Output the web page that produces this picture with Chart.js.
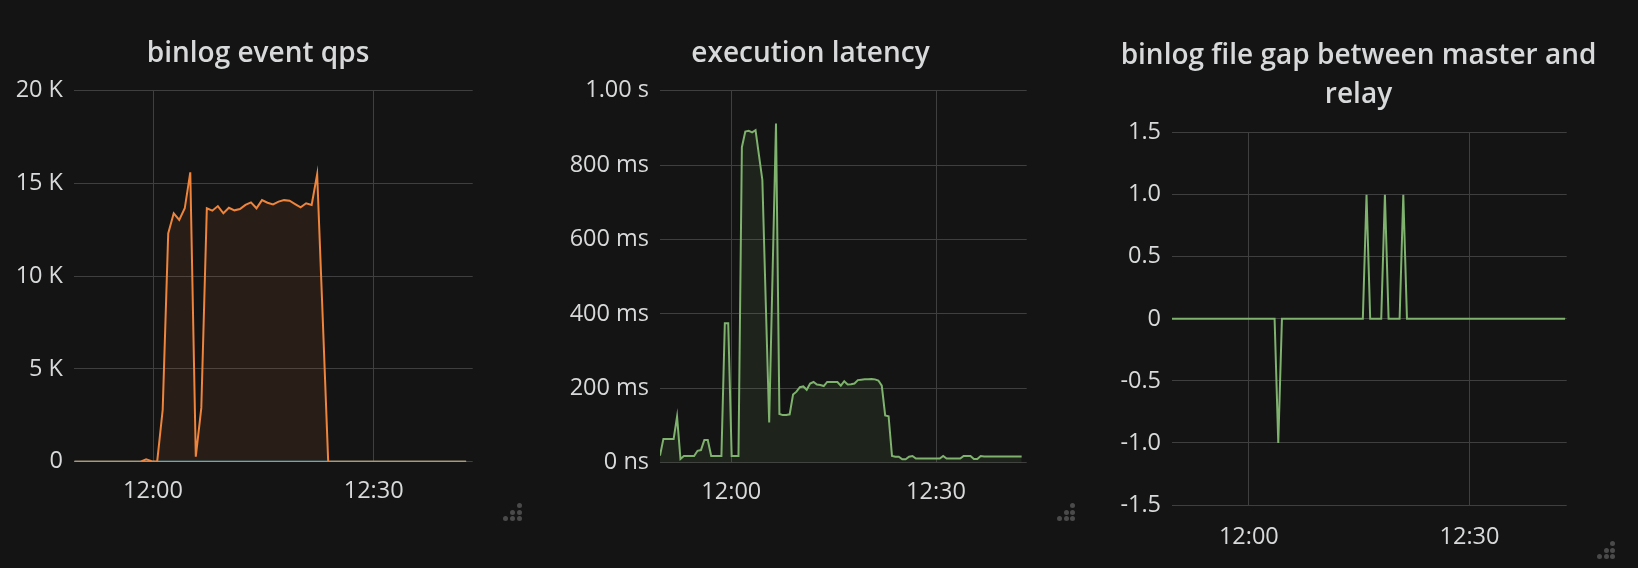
<!DOCTYPE html>
<html>
<head>
<meta charset="utf-8">
<script src="https://cdn.jsdelivr.net/npm/chart.js@4.4.1/dist/chart.umd.min.js"></script>
<style>
html,body{margin:0;padding:0;background:#141414;width:1638px;height:568px;overflow:hidden;}
.p{position:absolute;top:0;}
.dot{position:absolute;width:5px;height:5px;border-radius:50%;background:#4a4a4a;}
</style>
</head>
<body>
<div class="p" style="left:0px"><canvas id="c1" width="516" height="520"></canvas></div>
<div class="p" style="left:545px"><canvas id="c2" width="531" height="520"></canvas></div>
<div class="p" style="left:1100px"><canvas id="c3" width="517" height="568"></canvas></div>
<script>
// ---------- data ----------
const qpsTitle = 'binlog event qps';
const latTitle = 'execution latency';
const gapTitle = ['binlog file gap between master and', 'relay'];

const xTickLabels = ['12:00', '12:30'];
const qpsTickLabels = ['0', '5 K', '10 K', '15 K', '20 K'];
const latTickLabels = ['0 ns', '200 ms', '400 ms', '600 ms', '800 ms', '1.00 s'];
const gapTickLabels = ['-1.5', '-1.0', '-0.5', '0', '0.5', '1.0', '1.5'];

// sampling: start time and step (seconds)
const qpsStart = '11:49:19', qpsStepSec = 45;
const latStart = '11:49:33', latStepSec = 30;
const gapStart = '11:49:30', gapStepSec = 30;

// binlog event qps (events/s)
const qpsEvents = [0,0,0,0,0,0,0,0,0,0,
  0,0,0,130,30,0,2800,12300,13390,13030,
  13660,15600,270,2900,13660,13530,13780,13390,13690,13550,
  13620,13840,13980,13660,14100,13960,13870,14020,14100,14070,
  13890,13710,13930,13840,15500,7800,0,0,0,0,
  0,0,0,0,0,0,0,0,0,0,
  0,0,0,0,0,0,0,0,0,0,
  0,0];
const qpsOther = [0,0,0,0,0,0,0,0,0,0,
  0,0,0,0,0,0,0,0,0,0,
  0,0,0,0,0,0,0,0,0,0,
  0,0,0,0,0,0,0,0,0,0,
  0,0,0,0,0,0,0,0,0,0,
  0,0,0,0,0,0,0,0,0,0,
  0,0,0,0,0,0,0,0,0,0,
  0,0];

// execution latency (ms)
const latencyMs = [19,64,64,64,64,124,10,18,18,18,
  18,32,34,61,61,18,18,18,18,375,
  375,18,18,18,848,890,892,888,894,827,
  760,430,108,510,912,131,128,128,130,183,
  191,203,205,196,213,217,210,209,206,217,
  217,217,217,207,219,210,211,213,222,223,
  224,224,225,224,221,207,127,125,18,16,
  16,9,9,16,18,11,11,11,11,11,
  11,11,11,18,11,11,11,11,11,18,
  18,18,10,10,18,17,17,17,17,17,
  17,17,17,17,17,17,17];

// binlog file gap
const fileGap = [0,0,0,0,0,0,0,0,0,0,
  0,0,0,0,0,0,0,0,0,0,
  0,0,0,0,0,0,0,0,0,-1,
  0,0,0,0,0,0,0,0,0,0,
  0,0,0,0,0,0,0,0,0,0,
  0,0,0,1,0,0,0,0,1,0,
  0,0,0,1,0,0,0,0,0,0,
  0,0,0,0,0,0,0,0,0,0,
  0,0,0,0,0,0,0,0,0,0,
  0,0,0,0,0,0,0,0,0,0,
  0,0,0,0,0,0,0,0];

// ---------- helpers ----------
const FONT = '"Open Sans", "Noto Sans", sans-serif';
const TXT = '#d8d9da';
const GRID = '#3f3f3f';

function minutesFromNoon(hms) {
  const [h, m, s] = hms.split(':').map(Number);
  return (h * 3600 + m * 60 + s - 12 * 3600) / 60;
}
function toPoints(values, start, stepSec) {
  const t0 = minutesFromNoon(start);
  return values.map((v, i) => ({ x: t0 + i * stepSec / 60, y: v }));
}

function xAxis(min, max, height, pad) {
  return {
    type: 'linear', min: min, max: max,
    ticks: { stepSize: 30, includeBounds: false, autoSkip: false, maxRotation: 0,
      color: TXT, font: { family: FONT, size: 23.5 }, padding: pad,
      callback: (v, i) => xTickLabels[i] },
    grid: { color: GRID, lineWidth: 1, drawTicks: false },
    border: { display: false },
    afterFit: s => { s.height = height; }
  };
}
function yAxis(min, max, step, labels, width) {
  return {
    position: 'left',
    min: min, max: max,
    ticks: { stepSize: step, autoSkip: false, color: TXT, font: { family: FONT, size: 23.5 }, padding: 11,
      callback: (v, i) => labels[i] },
    grid: { color: GRID, lineWidth: 1, drawTicks: false },
    border: { display: false },
    afterFit: s => { s.width = width; }
  };
}
function spacerAxis(width) {
  return {
    type: 'linear', position: 'right', display: true,
    ticks: { display: false }, grid: { display: false, drawTicks: false }, border: { display: false },
    afterFit: s => { s.width = width; }
  };
}
function titleOpt(text, top, bottom, lh) {
  return { display: true, text: text, color: TXT,
    font: { family: FONT, size: 28, weight: '600', lineHeight: lh },
    padding: { top: top, bottom: bottom } };
}
function plugins(title) {
  return { legend: { display: false }, tooltip: { enabled: false }, filler: { drawTime: 'beforeDatasetsDraw' }, title: title };
}
const common = { responsive: false, animation: false, events: [], layout: { padding: 0 } };

// ---------- panel 1 ----------
new Chart(document.getElementById('c1'), {
  type: 'line',
  data: { datasets: [
    { data: toPoints(qpsEvents, qpsStart, qpsStepSec), borderColor: '#EF843C', backgroundColor: 'rgba(239,132,60,0.1)',
      borderWidth: 2, pointRadius: 0, fill: 'origin', tension: 0 },
    { data: toPoints(qpsOther, qpsStart, qpsStepSec), borderColor: '#6ED0E0', backgroundColor: 'rgba(110,208,224,0.1)',
      borderWidth: 2, pointRadius: 0, fill: 'origin', tension: 0 }
  ]},
  options: Object.assign({}, common, {
    plugins: plugins(titleOpt(qpsTitle, 35.6, 18.4, 1.31)),
    scales: { x: xAxis(-10.74, 43.46, 58.3, 16), y: yAxis(0, 20000, 5000, qpsTickLabels, 74), yr: spacerAxis(43.3) }
  })
});

// ---------- panel 2 ----------
new Chart(document.getElementById('c2'), {
  type: 'line',
  data: { datasets: [
    { data: toPoints(latencyMs, latStart, latStepSec), borderColor: '#7EB26D', backgroundColor: 'rgba(126,178,109,0.1)',
      borderWidth: 2, pointRadius: 0, fill: 'origin', tension: 0 }
  ]},
  options: Object.assign({}, common, {
    plugins: plugins(titleOpt(latTitle, 35.6, 18.4, 1.31)),
    scales: { x: xAxis(-10.45, 43.29, 57.3, 16), y: yAxis(0, 1000, 200, latTickLabels, 115), yr: spacerAxis(49.3) }
  })
});

// ---------- panel 3 ----------
new Chart(document.getElementById('c3'), {
  type: 'line',
  data: { datasets: [
    { data: toPoints(fileGap, gapStart, gapStepSec), borderColor: '#7EB26D',
      borderWidth: 2, pointRadius: 0, fill: false, tension: 0 }
  ]},
  options: Object.assign({}, common, {
    plugins: plugins(titleOpt(gapTitle, 35.8, 17.9, 1.41)),
    scales: { x: xAxis(-10.45, 43.22, 63, 18), y: yAxis(-1.5, 1.5, 0.5, gapTickLabels, 72), yr: spacerAxis(50.3) }
  })
});

// ---------- resize-handle dots (decoration) ----------
const handleCorners = [[519.3, 518.7], [1072.8, 518.7], [1612.7, 556.7]];
const dotOffsets = [[0, -2], [-1, -1], [0, -1], [-2, 0], [-1, 0], [0, 0]];
handleCorners.forEach(([cx, cy]) => {
  dotOffsets.forEach(([dx, dy]) => {
    const d = document.createElement('div');
    d.className = 'dot';
    d.style.left = (cx + dx * 6.67 - 2.5) + 'px';
    d.style.top = (cy + dy * 6.67 - 2.5) + 'px';
    document.body.appendChild(d);
  });
});
</script>
</body>
</html>
